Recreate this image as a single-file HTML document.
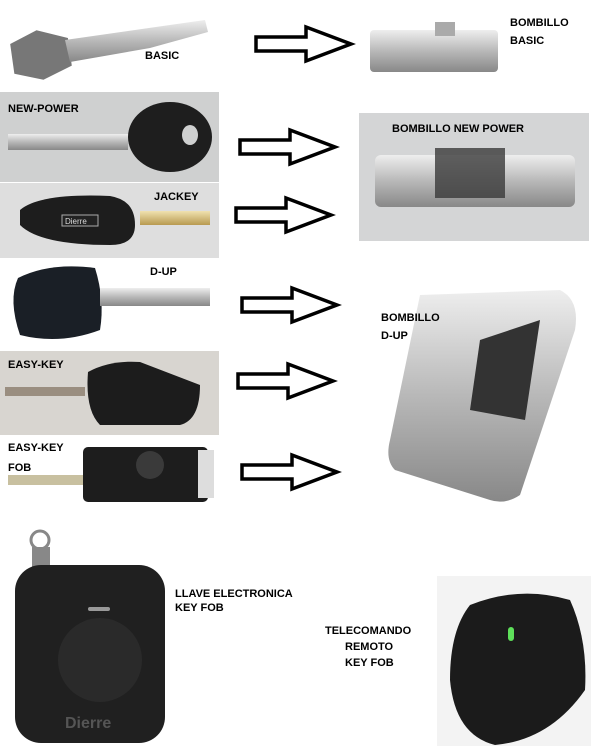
<!DOCTYPE html>
<html><head><meta charset="utf-8"><style>
html,body{margin:0;padding:0;background:#fff;}
body{width:600px;height:753px;overflow:hidden;position:relative;font-family:"Liberation Sans",sans-serif;}
svg{position:absolute;left:0;top:0;}
</style></head><body>
<svg width="600" height="753" viewBox="0 0 600 753" xmlns="http://www.w3.org/2000/svg" font-family="Liberation Sans, sans-serif" font-weight="bold" font-size="11">
<defs>
<g id="arr"><polygon points="0,10 50,10 50,0 95,17 50,34 50,24 0,24" fill="#fff" stroke="#000" stroke-width="3.5" stroke-linejoin="miter"/></g>
<linearGradient id="metal" x1="0" y1="0" x2="0" y2="1"><stop offset="0" stop-color="#eee"/><stop offset="0.5" stop-color="#b8b8b8"/><stop offset="1" stop-color="#888"/></linearGradient>
<linearGradient id="brass" x1="0" y1="0" x2="0" y2="1"><stop offset="0" stop-color="#f0e2b0"/><stop offset="1" stop-color="#b89a50"/></linearGradient>
</defs>

<!-- Row 1 basic key -->
<g>
<path d="M12,40 L40,30 L70,42 L70,70 L40,80 L12,70 Z" fill="#777" transform="rotate(-8 40 55)"/>
<path d="M65,40 L205,20 L208,32 L150,48 L70,62 Z" fill="url(#metal)"/>
</g>
<text x="145" y="59">BASIC</text>
<use href="#arr" x="256" y="27"/>
<rect x="370" y="30" width="128" height="42" rx="4" fill="url(#metal)"/>
<rect x="435" y="22" width="20" height="14" fill="#aaa"/>
<text x="510" y="26">BOMBILLO</text>
<text x="510" y="44">BASIC</text>

<!-- Row 2 new power -->
<rect x="0" y="92" width="219" height="90" fill="#cfd0d0"/>
<rect x="8" y="134" width="120" height="16" fill="url(#metal)"/>
<ellipse cx="170" cy="137" rx="42" ry="35" fill="#1e1e1e"/>
<ellipse cx="190" cy="135" rx="8" ry="10" fill="#cfd0d0"/>
<text x="8" y="112">NEW-POWER</text>
<use href="#arr" x="240" y="130"/>
<rect x="359" y="113" width="230" height="128" fill="#d4d5d6"/>
<rect x="375" y="155" width="200" height="52" rx="6" fill="url(#metal)"/>
<rect x="435" y="148" width="70" height="50" fill="#3a3a3a" opacity="0.8"/>
<text x="392" y="132">BOMBILLO NEW POWER</text>

<!-- Row 3 jackey -->
<rect x="0" y="183" width="219" height="75" fill="#dedede"/>
<path d="M20,210 Q40,193 110,196 Q135,200 135,225 Q135,245 110,245 Q40,245 20,225 Z" fill="#1d1d1d"/>
<rect x="62" y="215" width="36" height="11" fill="#222" stroke="#aaa" stroke-width="1"/>
<text x="65" y="224" font-size="8" fill="#ddd" font-weight="normal">Dierre</text>
<rect x="140" y="211" width="70" height="14" fill="url(#brass)"/>
<text x="154" y="200">JACKEY</text>
<use href="#arr" x="236" y="198"/>

<!-- Row 4 D-UP -->
<path d="M18,278 Q50,262 95,268 Q105,300 100,330 Q60,345 20,335 Q8,300 18,278 Z" fill="#1a1f26"/>
<rect x="100" y="288" width="110" height="18" fill="url(#metal)"/>
<text x="150" y="275">D-UP</text>
<use href="#arr" x="242" y="288"/>

<!-- D-UP cylinder -->
<path d="M420,295 L560,290 Q580,300 575,330 L520,495 Q505,505 490,500 L395,470 Q385,460 390,440 Z" fill="url(#metal)"/>
<path d="M480,340 L540,320 L525,420 L470,410 Z" fill="#333"/>
<text x="381" y="321">BOMBILLO</text>
<text x="381" y="339">D-UP</text>

<!-- Row 5 easy key -->
<rect x="0" y="351" width="219" height="84" fill="#d8d5d0"/>
<rect x="5" y="387" width="80" height="9" fill="#9a8e80"/>
<path d="M88,372 Q110,360 140,362 L200,385 Q200,420 180,425 L100,425 Q85,410 88,372 Z" fill="#1c1c1c"/>
<text x="8" y="368">EASY-KEY</text>
<use href="#arr" x="238" y="364"/>

<!-- Row 6 easy key fob -->
<rect x="8" y="475" width="75" height="10" fill="#c8c0a0"/>
<rect x="83" y="447" width="125" height="55" rx="5" fill="#1d1d1d"/>
<circle cx="150" cy="465" r="14" fill="#3a3a3a"/>
<rect x="198" y="450" width="16" height="48" fill="#ddd"/>
<text x="8" y="451">EASY-KEY</text>
<text x="8" y="471">FOB</text>
<use href="#arr" x="242" y="455"/>

<!-- key fob -->
<circle cx="40" cy="540" r="9" fill="none" stroke="#888" stroke-width="3"/>
<rect x="32" y="547" width="18" height="20" fill="#888"/>
<rect x="15" y="565" width="150" height="178" rx="26" fill="#202020"/>
<circle cx="100" cy="660" r="42" fill="#2a2a2a"/>
<rect x="88" y="607" width="22" height="4" rx="2" fill="#999"/>
<text x="65" y="728" font-size="16" fill="#555">Dierre</text>
<text x="175" y="597">LLAVE ELECTRONICA</text>
<text x="175" y="611">KEY FOB</text>

<!-- telecomando -->
<rect x="437" y="576" width="154" height="170" fill="#f3f3f3"/>
<path d="M470,605 Q520,585 570,600 Q588,640 585,690 Q550,740 495,745 Q455,735 450,680 Q450,630 470,605 Z" fill="#1b1b1b"/>
<rect x="508" y="627" width="6" height="14" rx="3" fill="#5ee05a"/>
<text x="325" y="634">TELECOMANDO</text>
<text x="345" y="650">REMOTO</text>
<text x="345" y="666">KEY FOB</text>
</svg>
</body></html>
